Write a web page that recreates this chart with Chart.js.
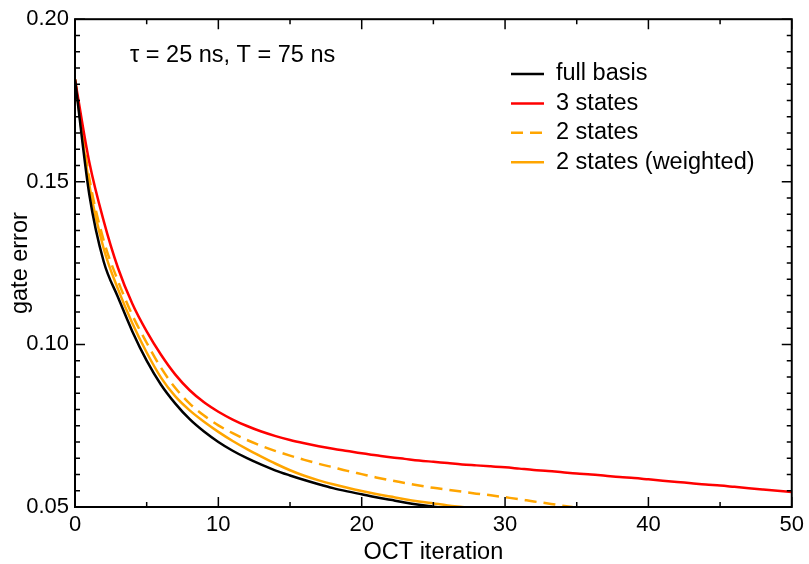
<!DOCTYPE html>
<html lang="en">
<head>
<meta charset="UTF-8">
<title>Gate error vs OCT iteration</title>
<style>
    html, body { margin: 0; padding: 0; background: #fff; }
    #wrap { width: 809px; height: 564px; }
</style>
</head>
<body>
<div id="wrap"><canvas id="errChart"></canvas></div>
<script src="https://cdn.jsdelivr.net/npm/chart.js"></script>
<script>
// OCT iteration numbers
const iterations = [0, 1, 2, 3, 4, 5, 6, 7, 8, 9, 10, 11, 12, 13, 14, 15, 16, 17, 18, 19, 20,
    21, 22, 23, 24, 25, 26, 27, 28, 29, 30, 31, 32, 33, 34, 35, 36, 37, 38, 39, 40,
    41, 42, 43, 44, 45, 46, 47, 48, 49, 50];

// gate error per iteration
const fullBasis = [0.1815, 0.146, 0.1255, 0.1145, 0.104, 0.095, 0.0876, 0.0818, 0.0770, 0.0732,
    0.0700, 0.0673, 0.0650, 0.0630, 0.0612, 0.0597, 0.0583, 0.0570, 0.0558, 0.0548,
    0.0539, 0.0530, 0.0522, 0.0514, 0.0507, 0.0501, 0.0495];
const threeStates = [0.1815, 0.156, 0.138, 0.1235, 0.1125, 0.1040, 0.0968, 0.0907, 0.0859, 0.0822,
    0.0793, 0.0769, 0.0749, 0.0732, 0.0718, 0.0706, 0.0696, 0.0687, 0.0679, 0.0672,
    0.0665, 0.0659, 0.0653, 0.0648, 0.0643, 0.0639, 0.0635, 0.0631, 0.0628, 0.0625,
    0.0622, 0.0618, 0.0614, 0.0611, 0.0607, 0.0603, 0.0600, 0.0596, 0.0592, 0.0589,
    0.0585, 0.0581, 0.0577, 0.0573, 0.0569, 0.0566, 0.0562, 0.0558, 0.0554, 0.0550, 0.0546];
const twoStates = [0.1815, 0.151, 0.132, 0.1195, 0.109, 0.1005, 0.0928, 0.0866, 0.0818, 0.0781,
    0.0751, 0.0727, 0.0706, 0.0688, 0.0672, 0.0658, 0.0645, 0.0633, 0.0622, 0.0611,
    0.0601, 0.0591, 0.0582, 0.0574, 0.0566, 0.0559, 0.0553, 0.0547, 0.0541, 0.0536,
    0.0530, 0.0524, 0.0517, 0.0511, 0.0504, 0.0498];
const twoStatesWeighted = [0.1815, 0.149, 0.1295, 0.1170, 0.1065, 0.0975, 0.0898, 0.0840, 0.0797, 0.0762,
    0.0731, 0.0703, 0.0678, 0.0655, 0.0633, 0.0613, 0.0596, 0.0582, 0.0570, 0.0559,
    0.0549, 0.0540, 0.0532, 0.0524, 0.0517, 0.0511, 0.0505, 0.0500, 0.0495];

const xTicks = [0, 10, 20, 30, 40, 50];
const yTicks = [0.05, 0.10, 0.15, 0.20];

const FONT = 'Liberation Sans, Arial, Helvetica, sans-serif';

function toPoints(vals) {
    return vals.map((v, i) => ({ x: iterations[i], y: v }));
}

// inward ticks on all four sides + frame, annotation and legend
const frameTicks = {
    id: 'frameTicks',
    afterDatasetsDraw(chart) {
        const { ctx, chartArea: a, scales: { x, y } } = chart;
        ctx.save();
        ctx.strokeStyle = '#000';
        ctx.lineWidth = 1.5;
        ctx.beginPath();
        for (let v = 0; v <= 50; v += 5) {
            const px = x.getPixelForValue(v);
            const len = v % 10 === 0 ? 10 : 5;
            ctx.moveTo(px, a.bottom); ctx.lineTo(px, a.bottom - len);
            ctx.moveTo(px, a.top); ctx.lineTo(px, a.top + len);
        }
        for (let i = 0; i <= 30; i++) {
            const py = y.getPixelForValue(0.05 + i * 0.005);
            const len = i % 10 === 0 ? 10 : 5;
            ctx.moveTo(a.left, py); ctx.lineTo(a.left + len, py);
            ctx.moveTo(a.right, py); ctx.lineTo(a.right - len, py);
        }
        ctx.stroke();
        ctx.lineWidth = 2;
        ctx.strokeRect(a.left, a.top, a.right - a.left, a.bottom - a.top);
        ctx.restore();
    },
    afterDraw(chart) {
        const { ctx } = chart;
        ctx.save();
        ctx.fillStyle = '#000';
        ctx.font = '23.5px ' + FONT;
        ctx.textBaseline = 'middle';
        ctx.textAlign = 'left';
        ctx.fillText('\u03c4 = 25 ns, T = 75 ns', 130, 56);

        // legend
        let rowY = 74;
        chart.data.datasets.forEach(ds => {
            ctx.strokeStyle = ds.borderColor;
            ctx.lineWidth = ds.borderWidth;
            ctx.setLineDash(ds.borderDash || []);
            ctx.beginPath();
            ctx.moveTo(511, rowY);
            ctx.lineTo(544, rowY);
            ctx.stroke();
            ctx.setLineDash([]);
            ctx.fillText(ds.label, 556, rowY);
            rowY += 29.4;
        });
        ctx.restore();
    }
};

new Chart(document.getElementById('errChart'), {
    type: 'line',
    data: {
        datasets: [
            { label: 'full basis', data: toPoints(fullBasis), borderColor: '#000000', borderWidth: 2.5 },
            { label: '3 states', data: toPoints(threeStates), borderColor: '#ff0000', borderWidth: 2.5 },
            { label: '2 states', data: toPoints(twoStates), borderColor: '#ffa500', borderWidth: 2.5, borderDash: [12, 7] },
            { label: '2 states (weighted)', data: toPoints(twoStatesWeighted), borderColor: '#ffa500', borderWidth: 2.5 }
        ]
    },
    options: {
        responsive: true,
        maintainAspectRatio: false,
        animation: false,
        devicePixelRatio: 1,
        layout: { padding: { top: 16, right: 16, left: 0, bottom: 0 } },
        elements: {
            point: { radius: 0 },
            line: { cubicInterpolationMode: 'monotone', fill: false }
        },
        datasets: { line: { clip: 0 } },
        plugins: {
            legend: { display: false },
            tooltip: { enabled: false }
        },
        scales: {
            x: {
                type: 'linear',
                min: 0, max: 50,
                afterFit(scale) { scale.height = 57; },
                afterBuildTicks(scale) { scale.ticks = xTicks.map(v => ({ value: v })); },
                grid: { display: false, drawTicks: false },
                border: { display: false },
                ticks: { color: '#000', padding: 5, maxRotation: 0, font: { family: FONT, size: 22 } },
                title: { display: true, text: 'OCT iteration', color: '#000', padding: { top: 0, bottom: 0 }, font: { family: FONT, size: 23.5, lineHeight: 1.0 } }
            },
            y: {
                type: 'linear',
                min: 0.05, max: 0.20,
                afterFit(scale) { scale.width = 75; },
                afterBuildTicks(scale) { scale.ticks = yTicks.map(v => ({ value: v })); },
                grid: { display: false, drawTicks: false },
                border: { display: false },
                ticks: { color: '#000', padding: 6, font: { family: FONT, size: 22 }, callback: v => v.toFixed(2) },
                title: { display: true, text: 'gate error', color: '#000', padding: { top: 6, bottom: 0 }, font: { family: FONT, size: 23.5 } }
            }
        }
    },
    plugins: [frameTicks]
});
</script>
</body>
</html>
